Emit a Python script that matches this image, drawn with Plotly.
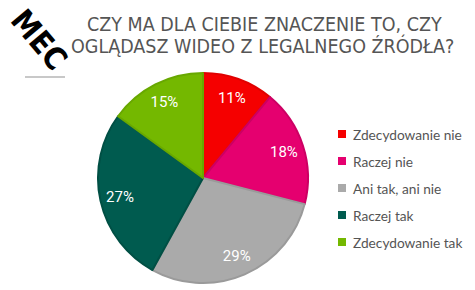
import plotly.graph_objects as go

labels = ["Zdecydowanie nie", "Raczej nie", "Ani tak, ani nie", "Raczej tak", "Zdecydowanie tak"]
values = [11, 18, 29, 27, 15]
colors = ["#f50000", "#e5006f", "#aaaaaa", "#005b4f", "#74b800"]
line_colors = ["#e00000", "#cc0063", "#9a9a9a", "#004f44", "#68a800"]
title_lines = ["CZY MA DLA CIEBIE ZNACZENIE TO, CZY", "OGLĄDASZ WIDEO Z LEGALNEGO ŹRÓDŁA?"]

W, H = 475, 290
dom = dict(x=[98/W, 308/W], y=[(H-283)/H, (H-73)/H])

fig = go.Figure()
fig.add_trace(go.Pie(
    labels=labels, values=values, sort=False, direction="clockwise", rotation=0,
    marker=dict(colors=colors, line=dict(color=line_colors, width=2)),
    textinfo="none", domain=dom, hoverinfo="label+percent", showlegend=False,
))
# label layer (transparent ring, so labels sit out toward the rim)
fig.add_trace(go.Pie(
    labels=labels, values=values, sort=False, direction="clockwise", rotation=0,
    hole=0.62,
    marker=dict(colors=["rgba(0,0,0,0)"] * len(values), line=dict(width=0)),
    texttemplate="%{value}%", textposition="inside", insidetextorientation="horizontal",
    textfont=dict(color="white", size=15, family="Roboto"),
    domain=dom, hoverinfo="skip", showlegend=False,
))

annotations = [
    dict(text=title_lines[0], x=264/W, y=(H-25)/H, xref="paper", yref="paper", showarrow=False,
         font=dict(size=19.5, color="#555555", family="DejaVu Sans Condensed"),
         xanchor="center", yanchor="middle"),
    dict(text=title_lines[1], x=262/W, y=(H-46)/H, xref="paper", yref="paper", showarrow=False,
         font=dict(size=19.5, color="#555555", family="DejaVu Sans Condensed"),
         xanchor="center", yanchor="middle"),
    dict(text="<b>MEC</b>", x=39/W, y=(H-39)/H, xref="paper", yref="paper",
         showarrow=False, textangle=50,
         font=dict(size=31, color="black", family="DejaVu Sans Condensed"),
         xanchor="center", yanchor="middle"),
]
shapes = [dict(type="line", xref="paper", yref="paper", x0=25/W, x1=65/W,
               y0=(H-77)/H, y1=(H-77)/H, line=dict(color="#c8c8c8", width=2))]

# manual legend
y0, dy = 134, 27
for i, (lab, col) in enumerate(zip(labels, colors)):
    yc = y0 + i * dy
    shapes.append(dict(type="rect", xref="paper", yref="paper",
                       x0=338/W, x1=346/W, y0=(H-yc-4)/H, y1=(H-yc+4)/H,
                       fillcolor=col, line=dict(width=0)))
    annotations.append(dict(text=lab, x=351/W, y=(H-yc)/H, xref="paper", yref="paper",
                            showarrow=False, xanchor="left", yanchor="middle",
                            font=dict(size=13.7, color="#555555", family="Lato")))

fig.update_layout(
    width=W, height=H, margin=dict(l=0, r=0, t=0, b=0),
    paper_bgcolor="white", plot_bgcolor="white",
    annotations=annotations, shapes=shapes,
)

fig.write_html("out.html")
